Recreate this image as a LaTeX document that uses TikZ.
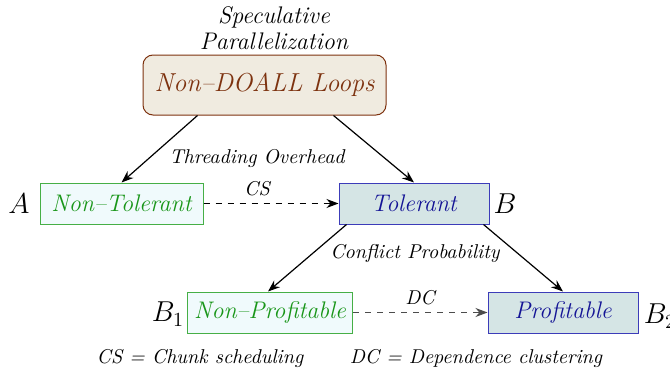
\documentclass[tikz,border=0pt]{standalone}
\usepackage{tikz}
\usetikzlibrary{calc,arrows.meta}
\definecolor{loopbrown}{RGB}{125,50,15}
\definecolor{loopfill}{RGB}{240,235,224}
\definecolor{ntgreen}{RGB}{25,150,25}
\definecolor{ntborder}{RGB}{70,175,70}
\definecolor{ntfill}{RGB}{240,250,252}
\definecolor{tblue}{RGB}{20,20,150}
\definecolor{tborder}{RGB}{60,60,185}
\definecolor{tfill}{RGB}{213,229,229}

\begin{document}
\begin{tikzpicture}[x=0.5pt, y=-0.5pt,
		loopbox/.style={draw=loopbrown, fill=loopfill, line width=0.5pt, rounded corners=5pt, minimum width=121.5pt, minimum height=30pt, text=loopbrown, font=\fontsize{13}{15}\selectfont\itshape},
		ntbox/.style={draw=ntborder, fill=ntfill, line width=0.5pt, minimum width=81.5pt, minimum height=20.5pt, text=ntgreen, font=\large\itshape},
		tbox/.style={draw=tborder, fill=tfill, line width=0.5pt, minimum width=75pt, minimum height=20.5pt, text=tblue, font=\large\itshape},
		flow/.style={-{Stealth[length=6pt,width=4.5pt]}, semithick},
		jump/.style={-{Stealth[length=6pt,width=4.5pt]}, semithick, dashed},
		edgetext/.style={font=\itshape},
		tag/.style={font=\Large}]
		%%%%% START %%%%%
		
		\useasboundingbox (0, 0) rectangle (670, 375);
		
		\node[align=center, font=\large\itshape, inner sep=0pt] (spec) at (274, 28) {Speculative\\[-1pt]Parallelization};
		\node[loopbox] (loops) at (264.5, 85) {Non--DOALL Loops};
		
		\node[ntbox] (nontol) at (121.5, 203.5) {Non--Tolerant};
		\node[tbox] (tol) at (414, 203.5) {Tolerant};
		\node[tag] (A) at (19, 204) {$A$};
		\node[tag] (B) at (505, 204) {$B$};
		
		\draw[flow] ([xshift=-33.5pt]loops.south) -- (nontol.north);
		\draw[flow] ([xshift=34.5pt]loops.south) -- (tol.north);
		\node[edgetext] (overhead) at (257, 158) {Threading Overhead};
		
		\draw[jump] (nontol.east) -- (tol.west);
		\node[edgetext] (cs) at (257, 189) {CS};
		
		\node[ntbox] (nonprof) at (270, 312.5) {Non--Profitable};
		\node[tbox] (prof) at (563, 312.5) {Profitable};
		\node[tag] (B1) at (168, 314) {$B_1$};
		\node[tag] (B2) at (660, 316) {$B_2$};
		
		\draw[flow] ([xshift=4pt]tol.south west) -- ([xshift=-1pt]nonprof.north);
		\draw[flow] ([xshift=-3pt]tol.south east) -- (prof.north);
		\node[edgetext] (conflict) at (415, 253) {Conflict Probability};
		
		\draw[jump, color=black!70] (nonprof.east) -- (prof.west);
		\node[edgetext] (dc) at (420, 298) {DC};
		
		\node[edgetext] (cskey) at (200, 358) {CS = Chunk scheduling};
		\node[edgetext] (dckey) at (476, 358) {DC = Dependence clustering};
		
		%%%%% END %%%%%
\end{tikzpicture}
\end{document}
